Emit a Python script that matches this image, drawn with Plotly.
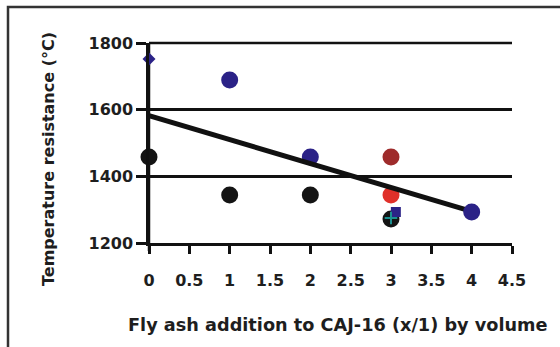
import plotly.graph_objects as go

# Data
diamond_x = [0]
diamond_y = [1752]

blue_x = [1, 2, 4]
blue_y = [1689, 1458, 1293]

black_x = [0, 1, 2, 3]
black_y = [1458, 1344, 1344, 1272]

darkred_x = [3]
darkred_y = [1458]

red_x = [3]
red_y = [1344]

square_x = [3.06]
square_y = [1293]

cross_x = [3]
cross_y = [1275]

trend_x = [0, 4]
trend_y = [1582, 1295]

y_range = [1200, 1800]
x_title = "Fly ash addition to CAJ-16 (x/1) by volume"
y_title = "Temperature resistance (°C)"

NAVY = "#2B2287"
FONT = "DejaVu Sans"
TXT = "#1e1e1e"

fig = go.Figure()

def scatter(x, y, symbol, size, color, line=None):
    fig.add_trace(go.Scatter(
        x=x, y=y, mode="markers", cliponaxis=False, showlegend=False,
        marker=dict(symbol=symbol, size=size, color=color,
                    line=line or dict(width=0)),
    ))

scatter(diamond_x, diamond_y, "diamond", 10, NAVY)
scatter(black_x, black_y, "circle", 17, "#141414")
scatter(darkred_x, darkred_y, "circle", 17, "#9E2B2B")
scatter(red_x, red_y, "circle", 17, "#E0302A")
scatter(blue_x[:2], blue_y[:2], "circle", 17, NAVY)

fig.add_trace(go.Scatter(
    x=trend_x, y=trend_y, mode="lines", showlegend=False, cliponaxis=False,
    line=dict(color="#111111", width=5),
))

scatter(blue_x[2:], blue_y[2:], "circle", 17, NAVY)
scatter(square_x, square_y, "square", 10, NAVY)
scatter(cross_x, cross_y, "cross-thin", 9, "#1A8F8F",
        line=dict(width=2, color="#1A8F8F"))

fig.update_layout(
    width=560, height=347,
    margin=dict(l=149, r=48, t=43, b=104, pad=0),
    paper_bgcolor="white", plot_bgcolor="white",
    font=dict(family=FONT, size=16, color=TXT, weight="bold"),
    xaxis=dict(
        range=[0, 4.5], dtick=0.5, tick0=0, showgrid=False, zeroline=False,
        showline=True, linecolor="#111111", linewidth=2.5,
        ticks="outside", ticklen=8, tickwidth=2.5, tickcolor="#111111",
        ticklabelstandoff=13,
        tickfont=dict(family=FONT, size=16, color=TXT, weight="bold"),
    ),
    yaxis=dict(
        range=y_range, dtick=200, tick0=1200, showgrid=True,
        gridcolor="#111111", gridwidth=2.5, zeroline=False,
        showline=True, linecolor="#111111", linewidth=2.5,
        ticks="outside", ticklen=10, tickwidth=2.5, tickcolor="#111111",
        tickfont=dict(family=FONT, size=16, color=TXT, weight="bold"),
    ),
    annotations=[
        dict(text=x_title, xref="paper", yref="paper",
             x=(338 - 149) / 363, y=(243 - 325) / 200,
             xanchor="center", yanchor="middle", showarrow=False,
             font=dict(family=FONT, size=17.7, color=TXT, weight="bold")),
        dict(text=y_title, xref="paper", yref="paper",
             x=(48 - 149) / 363, y=(243 - 159) / 200, textangle=-90,
             xanchor="center", yanchor="middle", showarrow=False,
             font=dict(family=FONT, size=16, color=TXT, weight="bold")),
    ],
    shapes=[
        dict(type="rect", xref="paper", yref="paper",
             x0=(8 - 149) / 363, x1=(620 - 149) / 363,
             y0=(243 - 420) / 200, y1=(243 - 7) / 200,
             line=dict(color="#333333", width=2.5), layer="below"),
        # top gridline at the upper end of the y range
        dict(type="line", xref="paper", yref="paper",
             x0=0, x1=1, y0=1, y1=1,
             line=dict(color="#111111", width=2.5), layer="above"),
        # vertical axis line (kept under the markers)
        dict(type="line", xref="paper", yref="paper",
             x0=0, x1=0, y0=-0.04, y1=1,
             line=dict(color="#111111", width=2.5), layer="below"),
    ],
)

fig.write_html("out.html")
